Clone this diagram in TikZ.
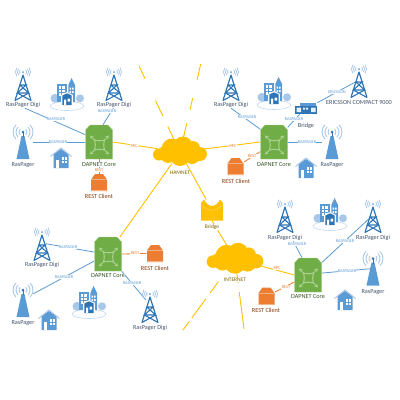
\documentclass[tikz,border=0pt]{standalone}
\usepackage{fontspec}
\setmainfont{Carlito}
\usepackage{xcolor}
\usetikzlibrary{shapes.geometric}
\usetikzlibrary{arrows.meta}
\usetikzlibrary{backgrounds}
\definecolor{linkblue}{HTML}{5B9BD5}
\definecolor{towerblue}{HTML}{2E75B6}
\definecolor{palesignal}{HTML}{A9C8E8}
\definecolor{corefill}{HTML}{70AD47}
\definecolor{coreline}{HTML}{A9D18E}
\definecolor{clientfill}{HTML}{ED7D31}
\definecolor{clientline}{HTML}{F4B183}
\definecolor{netfill}{HTML}{FFC000}
\definecolor{nettext}{HTML}{7F6000}
\definecolor{bluetext}{HTML}{44546A}
\definecolor{greentext}{HTML}{385723}
\definecolor{redtext}{HTML}{843C0C}

\begin{document}
\begin{tikzpicture}[
    x=1pt, y=-1pt,
    towerbox/.style={shape=rectangle, minimum width=8pt, minimum height=35pt, inner sep=0},
    mastbox/.style={shape=rectangle, minimum width=20pt, minimum height=34pt, inner sep=0},
    corebox/.style={shape=rectangle, minimum width=27pt, minimum height=34pt, inner sep=0},
    clientbox/.style={shape=rectangle, minimum width=17pt, minimum height=17pt, inner sep=0},
    bridgebox/.style={shape=rectangle, minimum width=22pt, minimum height=21pt, inner sep=0},
    devicebox/.style={shape=rectangle, minimum width=22pt, minimum height=11pt, inner sep=0},
    netbox/.style={shape=ellipse, minimum width=46pt, minimum height=24pt, inner sep=0},
    iconlabel/.style={inner sep=0.3pt, fill=white, font=\fontsize{6.2}{7}\selectfont},
    towerlabel/.style={iconlabel, text=bluetext},
    corelabel/.style={iconlabel, text=greentext},
    clientlabel/.style={iconlabel, text=redtext},
    netlabel/.style={iconlabel, text=nettext, font=\fontsize{5.5}{6}\selectfont},
    wirelabel/.style={inner sep=0.3pt, fill=white, text=linkblue, font=\fontsize{4.3}{5}\selectfont},
    restlabel/.style={wirelabel, text=clientfill},
    radiolink/.style={draw=linkblue, line width=0.8pt},
    restlink/.style={draw=clientfill, line width=0.8pt},
    netlink/.style={draw=netfill, line width=0.9pt},
    tower/.pic={
        \foreach \r in {3.5,5.5,7.5} \draw[palesignal, line width=0.8pt] (0,-11) ++(145:\r) arc (145:215:\r);
        \foreach \r in {3.5,5.5,7.5} \draw[palesignal, line width=0.8pt] (0,-11) ++(35:\r) arc (35:-35:\r);
        \fill[linkblue] (0,-11) circle (1);
        \draw[towerblue, line width=1.2pt, line join=round] (-8,17.5) -- (0,-8) -- (8,17.5);
        \draw[towerblue, line width=1.1pt] (-3.1,2) -- (3.1,2) -- (-5.6,10) -- (5.6,10) -- (-3.1,2);
        \draw[towerblue, line width=1.1pt] (-5.6,10) -- (8,17.5) (5.6,10) -- (-8,17.5);
    },
    mast/.pic={
        \foreach \r in {4,7,10} \draw[palesignal, line width=0.9pt] (0,-10) ++(135:\r) arc (135:225:\r);
        \foreach \r in {4,7,10} \draw[palesignal, line width=0.9pt] (0,-10) ++(45:\r) arc (45:-45:\r);
        \fill[linkblue] (-1.5,-6) -- (1.5,-6) -- (6.5,17) -- (-6.5,17) -- cycle;
        \draw[towerblue, line width=0.8pt] (0,-10) -- (0,-5);
        \fill[towerblue] (0,-10) circle (1.5);
    },
    house/.pic={
        \fill[linkblue] (-7.5,-4) -- (0,-9) -- (7.5,-4) -- (7.5,10) -- (-7.5,10) -- cycle;
        \draw[palesignal, line width=1pt, line join=round] (-10.5,-1.5) -- (0,-10) -- (10.5,-1.5);
        \fill[white] (-5,2) rectangle (-2,10);
        \fill[white] (0.5,-1) rectangle (5.5,5);
        \draw[linkblue, line width=0.4pt] (3,-1) -- (3,5) (0.5,2) -- (5.5,2);
    },
    city/.pic={
        \draw[palesignal!70!white, fill=white, line width=0.6pt] (0,11) ellipse (17 and 4.5);
        \fill[palesignal] (-12,3.3) circle (4.5) (13,3.3) circle (4);
        \fill[linkblue] (-9.7,-10.7) rectangle (-0.3,7);
        \fill[linkblue] (1.3,-10) -- (4.6,-17) -- (8,-10) -- (8,7) -- (1.3,7) -- cycle;
        \foreach \wx in {-8.4,-5} \foreach \wy in {-9,-5.5,-2} \fill[white] (\wx,\wy) rectangle +(2.6,2.6);
        \foreach \wy in {-7.5,-4} \fill[white] (2.6,\wy) rectangle +(1.5,2.2) (5.2,\wy) rectangle +(1.5,2.2);
        \fill[white] (-5.8,0) -- (0,-3) -- (5.8,0) -- (5.8,10.5) -- (-5.8,10.5) -- cycle;
        \fill[towerblue] (-4.7,0.5) -- (0,-1.7) -- (4.7,0.5) -- (4.7,10) -- (-4.7,10) -- cycle;
        \fill[white] (-3,4.5) rectangle (-1,10) (0.5,3.5) rectangle (3,6.5);
    },
    core/.pic={
        \filldraw[fill=corefill, draw=coreline, line width=0.4pt] (-9,-17) -- (9,-17) -- (13.5,-12) -- (13.5,17) -- (-13.5,17) -- (-13.5,-12) -- cycle;
        \draw[coreline, line width=1.1pt] (-4.5,-2) to[bend right=15] (5.5,-2) to[bend right=15] (5.5,8) to[bend right=15] (-4.5,8) to[bend right=15] cycle;
        \foreach \sx/\sy in {-1/-1,1/-1,1/1,-1/1}
            \draw[coreline, line width=1pt, -{Stealth[length=3.5pt,width=4pt]}] (0.5+5*\sx,3+5*\sy) -- (0.5+9.5*\sx,3+9.5*\sy);
    },
    client/.pic={
        \fill[clientfill] (-4,-8.5) -- (4,-8.5) -- (8,-3) -- (8,8.5) -- (-8,8.5) -- (-8,-3) -- cycle;
        \draw[clientline, line width=0.4pt] (-8,-3) -- (8,-3) (-8,8) -- (8,8);
    },
    bridgeicon/.pic={
        \fill[netfill] (-8,-10.5) .. controls (-4,-2) and (4,-2) .. (8,-10.5) -- (11,-7) -- (11,10.5) -- (-11,10.5) -- (-11,-7) -- cycle;
        \draw[netfill!60!white, line width=0.5pt] (-10,-5) .. controls (-5,2) and (5,2) .. (10,-5);
    },
    device/.pic={
        \fill[linkblue] (-6,-5.5) rectangle (10,0);
        \fill[towerblue] (-11,-3) rectangle (11,5.5);
        \fill[white!85!linkblue] (-9.5,-1) rectangle (-5,3.5) (5,-1) rectangle (9.5,3.5);
        \fill[white!85!linkblue] (-3,-1) rectangle (-1,1) (0,-1) rectangle (2,1);
    },
    netcloud/.pic={
        \fill[netfill] (-21,2.5) circle (6) (-15,1.5) circle (7.5) (-8,-3) circle (10.5) (3,-6) circle (9.5)
            (13,-4) circle (7) (20,2) circle (7) (0,4) circle (10) (-12,4) circle (7) (12,4) circle (8);
    }
]
\useasboundingbox (0,0) rectangle (400,400);

% Coordinates
\coordinate (ham_up_left) at (139,66);
\coordinate (ham_up_right) at (201,63);
\coordinate (inet_down_left) at (183,330);
\coordinate (inet_down) at (244,329);

% Anchors
\node[netbox] (hamnet) at (180,152) {};
\node[netbox] (internet) at (235,259) {};

\node[bridgebox] (bridge) at (212,210) {};
\node[devicebox] (device) at (306,108.5) {};

\node[corebox] (core1) at (99,142) {};
\node[corebox] (core2) at (274,142) {};
\node[corebox] (core3) at (108,254) {};
\node[corebox] (core4) at (308,275) {};

\node[clientbox] (client1) at (99,182.5) {};
\node[clientbox] (client2) at (235.5,166.5) {};
\node[clientbox] (client3) at (155,253.5) {};
\node[clientbox] (client4) at (266.5,296) {};

\node[towerbox] (digi1) at (23,83) {};
\node[towerbox] (digi2) at (114,83) {};
\node[towerbox] (digi3) at (231,83) {};
\node[towerbox] (compact) at (359,80) {};
\node[towerbox] (digi5) at (42,243) {};
\node[towerbox] (digi6) at (150,305) {};
\node[towerbox] (digi7) at (285,215) {};
\node[towerbox] (digi8) at (373,215) {};

\node[mastbox] (mast1) at (23,142) {};
\node[mastbox] (mast2) at (332,142) {};
\node[mastbox] (mast3) at (23,300) {};
\node[mastbox] (mast4) at (373,268.5) {};

% Labels
\node[towerlabel] (digi1_text) at (23,105) {RasPager Digi};
\node[towerlabel] (digi2_text) at (114,105) {RasPager Digi};
\node[towerlabel] (digi3_text) at (231,105) {RasPager Digi};
\node[towerlabel] (compact_text) at (359,103) {ERICSSON COMPACT 9000};
\node[towerlabel] (digi5_text) at (42,265) {RasPager Digi};
\node[towerlabel] (digi6_text) at (150,328) {RasPager Digi};
\node[towerlabel] (digi7_text) at (285,238) {RasPager Digi};
\node[towerlabel] (digi8_text) at (373,238) {RasPager Digi};
\node[towerlabel] (mast1_text) at (23,165) {RasPager};
\node[towerlabel] (mast2_text) at (332,165) {RasPager};
\node[towerlabel] (mast3_text) at (23,323) {RasPager};
\node[towerlabel] (mast4_text) at (373,292) {RasPager};
\node[towerlabel] (device_text) at (306,126) {Bridge};
\node[netlabel] (bridge_text) at (212,227) {Bridge};
\node[netlabel] (hamnet_text) at (180,173) {HAMNET};
\node[netlabel] (internet_text) at (235,280) {INTERNET};
\node[corelabel] (core1_text) at (99,164.5) {DAPNET Core};
\node[corelabel] (core2_text) at (274,164.5) {DAPNET Core};
\node[corelabel] (core3_text) at (108,276) {DAPNET Core};
\node[corelabel] (core4_text) at (308,297) {DAPNET Core};
\node[clientlabel] (client1_text) at (99,196) {REST Client};
\node[clientlabel] (client2_text) at (236,181) {REST Client};
\node[clientlabel] (client3_text) at (155,268) {REST Client};
\node[clientlabel] (client4_text) at (266,310) {REST Client};

% Wire labels
\node[wirelabel] (wire1) at (56,119) {RASPAGER};
\node[wirelabel] (wire2) at (107,111) {RASPAGER};
\node[wirelabel] (wire3) at (58,142) {RASPAGER};
\node[wirelabel] (wire4) at (247,117) {RASPAGER};
\node[wirelabel] (wire5) at (294,119) {RASPAGER};
\node[wirelabel] (wire6) at (307,142) {RASPAGER};
\node[wirelabel] (wire7) at (337,92) {ERICSSON};
\node[wirelabel] (wire8) at (68,247) {RASPAGER};
\node[wirelabel] (wire9) at (64,277) {RASPAGER};
\node[wirelabel] (wire10) at (132,283) {RASPAGER};
\node[wirelabel] (wire11) at (297,244) {RASPAGER};
\node[wirelabel] (wire12) at (345,241) {RASPAGER};
\node[wirelabel] (wire13) at (347,271) {RASPAGER};
\node[restlabel] (rpc1) at (134,146) {RPC};
\node[restlabel] (rpc2) at (233,146) {RPC};
\node[restlabel] (rpc3) at (277,268) {RPC};
\node[restlabel] (rest1) at (99,170) {REST};
\node[restlabel] (rest2) at (252,156) {REST};
\node[restlabel] (rest3) at (135,253) {REST};
\node[restlabel] (rest4) at (286,287) {REST};

% Links
\begin{scope}[on background layer]
\draw[radiolink] (digi1_text.-60) -- (core1.152);
\draw[radiolink] (digi2_text.260) -- (core1.77);
\draw[radiolink] (mast1.east) -- (core1.west);
\draw[radiolink] (digi3_text.south) -- (core2.137);
\draw[radiolink] (device.222) -- (core2.47);
\draw[radiolink] (core2.east) -- (mast2.west);
\draw[radiolink] (device.north east) -- (compact);
\draw[radiolink] (digi5) -- (core3.172);
\draw[radiolink] (mast3.31) -- (core3.207);
\draw[radiolink] (core3.south east) -- (digi6);
\draw[radiolink] (digi7_text.-21) -- (core4.109);
\draw[radiolink] (digi8) -- (core4.42);
\draw[radiolink] (mast4.center) -- (core4.8);

\draw[restlink] (core1.south) -- (client1.north);
\draw[restlink] (client2.28) -- (core2.215);
\draw[restlink] (core3.east) -- (client3.west);
\draw[restlink] (client4.25) -- (core4.207);

\draw[netlink] (core1.east) -- (hamnet);
\draw[netlink] (hamnet) -- (core2.west);
\draw[netlink] (hamnet) -- (core3.55);
\draw[netlink] (hamnet) -- (bridge);
\draw[netlink] (bridge.south) -- (internet);
\draw[netlink] (internet) -- (core4.west);
\draw[netlink, dash pattern=on 15pt off 12pt on 17pt off 24pt on 17pt] (hamnet) -- (ham_up_left);
\draw[netlink, dash pattern=on 17pt off 14pt on 12pt off 19pt on 16pt] (hamnet) -- (ham_up_right);
\draw[netlink, dash pattern=on 0pt off 14pt on 14pt off 7pt on 24pt off 4pt on 11pt] (internet) -- (inet_down_left);
\draw[netlink, dash pattern=on 12pt off 9pt on 38pt] (internet) -- (inet_down);
\end{scope}

% Icons
\pic at (hamnet) {netcloud};
\pic[scale=1.05] at (internet) {netcloud};
\pic at (digi1) {tower};
\pic at (digi2) {tower};
\pic at (digi3) {tower};
\pic at (compact) {tower};
\pic at (digi5) {tower};
\pic at (digi6) {tower};
\pic at (digi7) {tower};
\pic at (digi8) {tower};
\pic at (mast1) {mast};
\pic at (mast2) {mast};
\pic at (mast3) {mast};
\pic at (mast4) {mast};
\pic at (core1) {core};
\pic at (core2) {core};
\pic at (core3) {core};
\pic at (core4) {core};
\pic at (client1) {client};
\pic at (client2) {client};
\pic at (client3) {client};
\pic at (client4) {client};
\pic at (bridge) {bridgeicon};
\pic at (device) {device};
\pic at (67,95) {city};
\pic at (274,94) {city};
\pic at (89,303) {city};
\pic at (330,215) {city};
\pic at (61,158) {house};
\pic at (306,168) {house};
\pic at (49,320) {house};
\pic at (345,300) {house};

\end{tikzpicture}
\end{document}
